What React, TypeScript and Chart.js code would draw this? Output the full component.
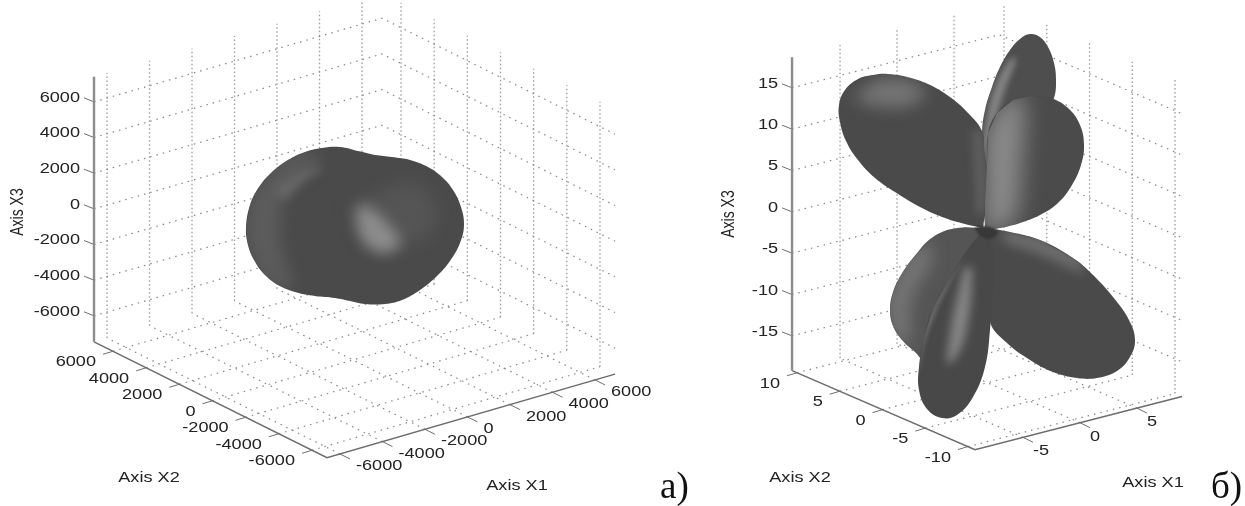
import React, { useEffect, useRef } from "react";
import { Chart, registerables } from "chart.js";

// ---- tick values of the two panels ----
const ticksA = [-6000, -4000, -2000, 0, 2000, 4000, 6000];
const x1TicksB = [-5, 0, 5];
const x2TicksB = [10, 5, 0, -5, -10];
const x3TicksB = [15, 10, 5, 0, -5, -10, -15];

// ---- axis limits ----
const limitsA = { x1: [-6612, 6941], x2: [-6905, 7146], x3: [-7458, 7402] };
const limitsB = { x1: [-9.21, 8.95], x2: [-10.82, 10.58], x3: [-19.2, 18.7] };

// ---- silhouettes (view plane units) ----
const blobA = [[375,155],[392,157],[410,160],[428,167],[442,177],[453,190],[461,207],[464,225],[460,243],[450,261],[437,276],[420,290],[402,300],[385,304],[365,304],[350,301],[335,298],[315,296],[295,292],[278,285],[264,274],[254,260],[248,245],[246,228],[250,205],[259,187],[272,172],[288,160],[305,152],[322,148],[340,147],[358,151],[375,155]];
const blobALeft = [[244,228],[252,195],[270,170],[300,152],[322,162],[300,176],[286,195],[280,220],[282,250],[292,290],[264,280],[250,255]];
const blobAStreak = [[274,192],[296,174],[322,168],[302,182],[284,200]];
const blobARing = [[352,205],[380,192],[412,182],[436,205],[430,234],[402,246],[372,250]];
const blobASpot = [[356,206],[370,208],[388,224],[400,242],[390,252],[370,248],[358,232]];

const lobeBack = [[985,225],[982,180],[982,133],[985,110],[992,87],[1000,67],[1010,50],[1020,39],[1030,34],[1040,37],[1048,47],[1054,63],[1056,80],[1054,98],[1040,130],[1000,170],[985,225]];
const lobeBackStrip = [[983,140],[992,96],[1008,62],[1016,58],[1004,92],[994,130],[990,180]];
const lobeUpper = [[983,228],[965,224],[945,218],[920,207],[895,192],[875,178],[858,160],[846,141],[840,122],[839,105],[845,90],[858,79],[873,75],[888,74],[907,77],[928,84],[950,97],[968,113],[982,131],[984,150],[987,173],[986,205],[983,228]];
const lobeUpperSpot = [[852,98],[885,78],[925,90],[910,106],[872,106]];
const lobeUpperEdge = [[972,130],[982,130],[986,210],[976,215]];
const lobeRound = [[985,230],[1000,228],[1020,223],[1040,215],[1058,203],[1072,185],[1081,165],[1084,145],[1080,125],[1068,108],[1050,98],[1030,96],[1013,100],[997,113],[988,133],[987,167],[985,200],[985,230]];
const lobeRoundLight = [[984,135],[1000,104],[1018,94],[1024,100],[1022,160],[1012,224],[984,232]];
const lobeLow = [[985,228],[957,228],[933,237],[913,258],[901,275],[893,292],[890,310],[893,326],[902,340],[915,352],[925,360],[950,330],[985,270],[985,228]];
const lobeLowLight = [[886,300],[905,262],[925,242],[932,258],[912,298],[908,345],[892,335]];
const lobeRight = [[985,228],[1005,231],[1040,240],[1073,258],[1092,274],[1113,297],[1129,320],[1135,340],[1130,357],[1117,371],[1097,378],[1077,378],[1053,372],[1030,360],[1007,343],[990,322],[988,280],[985,228]];
const lobeRightLight = [[1000,230],[1040,238],[1078,258],[1084,272],[1040,254],[1005,242]];
const lobeFront = [[985,228],[967,250],[950,277],[933,307],[924,338],[919,367],[919,390],[927,409],[942,418],[957,415],[973,397],[985,367],[990,330],[993,283],[993,250],[985,228]];
const lobeFrontStreak = [[964,268],[972,268],[964,340],[948,364],[952,320]];
const lobeFrontRim = [[967,250],[934,306],[921,345],[919,372],[924,345],[938,306]];
const lobeCentre = [[974,228],[985,226],[998,232],[990,239],[980,236]];

const panelA = { o: [353, 227], u1: [0.02125, -0.00617], u2: [-0.01658, -0.00825], u3: 0.01783, lim: limitsA, t1: ticksA, t2: [...ticksA].reverse(), t3: ticksA };
const panelB = { o: [987.5, 224], u1: [11.4, -2.92], u2: [-8.55, -3.69], u3: 8.27, lim: limitsB, t1: x1TicksB, t2: x2TicksB, t3: x3TicksB };

type P = { x: number; y: number };
const gap: P = { x: NaN, y: NaN };
const toPts = (a: number[][]): P[] => a.map(([x, y]) => ({ x, y }));

const project = (p: any, a: number, b: number, c: number): P => ({
  x: p.o[0] + p.u1[0] * a + p.u2[0] * b,
  y: p.o[1] + p.u1[1] * a + p.u2[1] * b - p.u3 * c,
});

function gridParts(p: any) {
  const [x1a, x1b] = p.lim.x1, [x2a, x2b] = p.lim.x2, [x3a, x3b] = p.lim.x3;
  const v: P[] = [], s: P[] = [], t: P[] = [];
  for (const a of p.t1) v.push(project(p, a, x2b, x3a), project(p, a, x2b, x3b), gap);
  for (const b of p.t2) v.push(project(p, x1b, b, x3a), project(p, x1b, b, x3b), gap);
  for (const c of p.t3) s.push(project(p, x1a, x2b, c), project(p, x1b, x2b, c), project(p, x1b, x2a, c), gap);
  for (const a of p.t1) s.push(project(p, a, x2a, x3a), project(p, a, x2b, x3a), gap);
  for (const b of p.t2) s.push(project(p, x1a, b, x3a), project(p, x1b, b, x3a), gap);
  const off = (q: P, dx: number, dy: number): P => ({ x: q.x + dx, y: q.y + dy });
  for (const a of p.t1) { const q = project(p, a, x2a, x3a); t.push(q, off(q, 10, 5), gap); }
  for (const b of p.t2) { const q = project(p, x1a, b, x3a); t.push(q, off(q, -10, 3), gap); }
  for (const c of p.t3) { const q = project(p, x1a, x2b, c); t.push(q, off(q, -10, -4), gap); }
  const floor = [project(p, x1a, x2b, x3a), project(p, x1a, x2a, x3a), project(p, x1b, x2a, x3a)];
  const vert = [project(p, x1a, x2b, x3a), project(p, x1a, x2b, x3b)];
  return { v, s, t, floor, vert };
}

const softClip = {
  id: "softClip",
  beforeDatasetDraw(chart: any, args: any) {
    const ds = chart.data.datasets[args.index];
    if (!ds.blurPx && !ds.clipTo) return;
    const ctx = chart.ctx;
    ctx.save();
    if (ds.clipTo) {
      const xs = chart.scales.x, ys = chart.scales.y;
      ctx.beginPath();
      ds.clipTo.forEach(([x, y]: number[], i: number) => {
        const px = xs.getPixelForValue(x), py = ys.getPixelForValue(y);
        if (i) ctx.lineTo(px, py); else ctx.moveTo(px, py);
      });
      ctx.closePath();
      ctx.clip();
    }
    if (ds.blurPx) ctx.filter = `blur(${ds.blurPx}px)`;
  },
  afterDatasetDraw(chart: any, args: any) {
    const ds = chart.data.datasets[args.index];
    if (ds.blurPx || ds.clipTo) chart.ctx.restore();
  },
};

const textPlugin = {
  id: "panelText",
  afterDraw(chart: any) {
    const ctx = chart.ctx, xs = chart.scales.x, ys = chart.scales.y;
    const put = (s: string, x: number, y: number, align: string, o: any = {}) => {
      ctx.save();
      ctx.translate(xs.getPixelForValue(x), ys.getPixelForValue(y));
      if (o.rot) ctx.rotate(o.rot);
      ctx.scale(o.sx ?? 1.26, o.sy ?? 1);
      ctx.font = o.font ?? '14.4px "Liberation Sans"';
      ctx.fillStyle = o.color ?? "#222";
      ctx.textAlign = align;
      ctx.textBaseline = o.base ?? "middle";
      ctx.fillText(s, 0, 0);
      ctx.restore();
    };
    const ticks = (p: any, x2Dx: number, x1Dx: number, x1Dy: number) => {
      const [x1a] = p.lim.x1, [x2a, x2b] = p.lim.x2, [x3a] = p.lim.x3;
      for (const c of p.t3) { const q = project(p, x1a, x2b, c); put(String(c), q.x - 14, q.y - 4, "right"); }
      for (const b of p.t2) { const q = project(p, x1a, b, x3a); put(String(b), q.x + x2Dx, q.y + 11, "right"); }
      for (const a of p.t1) { const q = project(p, a, x2a, x3a); put(String(a), q.x + x1Dx, q.y + x1Dy, "left"); }
    };
    ticks(panelA, -17, 16, 12);
    ticks(panelB, -17, 10, 14);
    const side = { rot: -Math.PI / 2, sx: 1, sy: 1.32, font: '14px "Liberation Sans"' };
    put("Axis X3", 18, 212, "center", side);
    put("Axis X3", 729, 214, "center", side);
    put("Axis X2", 149, 478, "center");
    put("Axis X1", 517, 486, "center");
    put("Axis X2", 800, 478, "center");
    put("Axis X1", 1153, 483, "center");
    const big = { sx: 1, font: '37px "Liberation Serif"', base: "alphabetic", color: "#111" };
    put("a)", 660, 498, "left", big);
    put("б)", 1211, 498, "left", big);
  },
};

Chart.register(softClip);
Chart.register(...registerables);

const shape = (a: number[][], color: string, extra: any = {}) => ({
  type: "scatter",
  data: toPts(a),
  showLine: true,
  fill: "shape",
  backgroundColor: color,
  borderColor: "transparent",
  borderWidth: 0,
  tension: 0.4,
  pointRadius: 0,
  ...extra,
});
const strokes = (d: P[], color: string, w: number, dash: number[] = []) => ({
  type: "scatter",
  data: d,
  showLine: true,
  fill: false,
  borderColor: color,
  borderWidth: w,
  borderDash: dash,
  pointRadius: 0,
  tension: 0,
  spanGaps: false,
});

export default function App() {
  const ref = useRef<HTMLCanvasElement | null>(null);
  useEffect(() => {
    const a = gridParts(panelA), b = gridParts(panelB);
    const list: any[] = [];
    for (const g of [a, b]) {
      list.push(strokes(g.v, "#9a9a9a", 1.3, [1.5, 2.5]));
      list.push(strokes(g.s, "#858585", 1.2, [1.5, 5]));
      list.push(strokes(g.t, "#6e6e6e", 1));
      list.push(strokes(g.floor, "#6c6c6c", 1.5));
      list.push(strokes(g.vert, "#8c8c8c", 2.4));
    }
    const soft = (outline: number[][], pts: number[][], color: string, blurPx: number) =>
      shape(pts, color, { clipTo: outline, blurPx });
    list.push(
      shape(blobA, "#4a4a4a"),
      soft(blobA, blobALeft, "#5c5c5c", 8),
      soft(blobA, blobAStreak, "#686868", 5),
      soft(blobA, blobARing, "#555555", 9),
      soft(blobA, blobASpot, "#8c8c8c", 7),
      shape(lobeBack, "#4e4e4e"),
      soft(lobeBack, lobeBackStrip, "#858585", 3),
      shape(lobeUpper, "#4a4a4a"),
      soft(lobeUpper, lobeUpperSpot, "#747474", 8),
      soft(lobeUpper, lobeUpperEdge, "#5e5e5e", 4),
      shape(lobeRound, "#4b4b4b"),
      soft(lobeRound, lobeRoundLight, "#8a8a8a", 11),
      shape(lobeLow, "#555555"),
      soft(lobeLow, lobeLowLight, "#757575", 8),
      shape(lobeRight, "#4a4a4a"),
      soft(lobeRight, lobeRightLight, "#707070", 6),
      shape(lobeFront, "#484848"),
      soft(lobeFront, lobeFrontStreak, "#858585", 5),
      soft(lobeFront, lobeFrontRim, "#707070", 2),
      shape(lobeCentre, "#383838", { blurPx: 1 })
    );
    list.forEach((d, i) => (d.order = list.length - i));
    const chart = new Chart(ref.current as HTMLCanvasElement, {
      type: "scatter",
      data: { datasets: list },
      plugins: [textPlugin],
      options: {
        animation: false,
        responsive: false,
        layout: { padding: 0 },
        plugins: { legend: { display: false }, tooltip: { enabled: false }, title: { display: false } },
        scales: {
          x: { type: "linear", min: 0, max: 1245, display: false },
          y: { type: "linear", min: 0, max: 506, reverse: true, display: false },
        },
      },
    } as any);
    return () => chart.destroy();
  }, []);
  return (
    <div style={{ position: "fixed", left: 0, top: 0, width: 1245, height: 506, background: "#fff" }}>
      <canvas ref={ref} width={1245} height={506} style={{ display: "block", filter: "blur(0.5px)" }} />
    </div>
  );
}
